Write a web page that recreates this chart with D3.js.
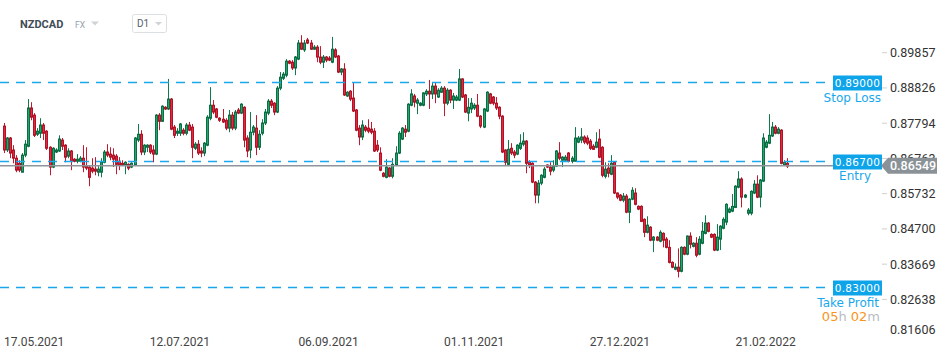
<!DOCTYPE html>
<html><head><meta charset="utf-8">
<script src="https://cdn.jsdelivr.net/npm/d3@7"></script>
<style>html,body{margin:0;padding:0;background:#fff}svg{display:block}</style>
</head><body>
<svg id="c" width="950" height="360"></svg>
<script>
const symbol = "NZDCAD";
const market = "FX";
const interval = "D1";
const openV = [.8771,.8701,.8736,.8701,.8677,.8662,.8636,.8686,.8712,.8824,.8803,.8747,.8750,.8774,.8756,.8709,.8651,.8695,.8698,.8730,.8715,.8683,.8698,.8674,.8668,.8668,.8677,.8654,.8651,.8648,.8645,.8636,.8636,.8665,.8695,.8689,.8686,.8683,.8668,.8662,.8657,.8659,.8651,.8657,.8730,.8747,.8695,.8709,.8715,.8701,.8689,.8803,.8785,.8826,.8821,.8850,.8768,.8750,.8750,.8759,.8750,.8774,.8768,.8706,.8718,
.8698,.8692,.8715,.8794,.8832,.8821,.8794,.8791,.8788,.8765,.8803,.8765,.8818,.8809,.8826,.8736,.8701,.8753,.8765,.8709,.8750,.8780,.8809,.8844,.8838,.8812,.8882,.8911,.8920,.8961,.8958,.8941,.8967,.9014,.8994,.9023,.9014,.8996,.9002,.8973,.8958,.8973,.8970,.8958,.8994,.8976,.8929,.8938,.8859,.8873,.8853,.8818,.8765,.8739,.8768,.8765,.8762,.8756,.8715,.8692,.8633,.8621,.8648,.8624,.8657,.8692,
.8733,.8762,.8756,.8832,.8859,.8838,.8832,.8832,.8865,.8873,.8865,.8888,.8856,.8870,.8882,.8838,.8876,.8847,.8847,.8847,.8909,.8862,.8809,.8821,.8824,.8832,.8800,.8768,.8815,.8865,.8856,.8838,.8826,.8800,.8701,.8659,.8706,.8695,.8689,.8706,.8718,.8727,.8665,.8662,.8607,.8569,.8604,.8621,.8657,.8651,.8642,.8654,.8692,.8671,.8671,.8692,.8668,.8668,.8724,.8730,.8739,.8736,.8727,.8712,.8709,.8733,.8709,
.8624,.8648,.8630,.8665,.8575,.8569,.8554,.8566,.8519,.8557,.8575,.8536,.8536,.8498,.8460,.8475,.8437,.8446,.8434,.8457,.8440,.8416,.8372,.8352,.8358,.8346,.8416,.8396,.8449,.8419,.8428,.8396,.8428,.8457,.8487,.8454,.8454,.8408,.8440,.8472,.8490,.8519,.8522,.8533,.8592,.8616,.8563,.8516,.8516,.8575,.8601,.8563,.8610,.8709,.8721,.8742,.8768,.8750,.8759,.8657,.8662];
const highV = [.8780,.8739,.8739,.8715,.8686,.8671,.8692,.8730,.8850,.8841,.8809,.8765,.8794,.8780,.8759,.8712,.8709,.8706,.8744,.8736,.8718,.8706,.8701,.8677,.8689,.8683,.8715,.8709,.8657,.8677,.8680,.8654,.8677,.8701,.8718,.8709,.8706,.8689,.8680,.8671,.8668,.8662,.8665,.8739,.8777,.8759,.8718,.8718,.8718,.8715,.8806,.8809,.8832,.8829,.8909,.8853,.8774,.8765,.8780,.8765,.8780,.8783,.8777,.8724,.8730,
.8709,.8724,.8803,.8885,.8847,.8824,.8797,.8821,.8794,.8818,.8812,.8818,.8824,.8838,.8829,.8744,.8812,.8774,.8803,.8759,.8791,.8821,.8850,.8850,.8841,.8888,.8929,.8929,.8967,.8964,.8964,.8976,.9023,.9037,.9023,.9029,.9023,.9008,.9008,.9005,.8979,.8976,.8976,.9032,.8999,.8979,.8941,.8955,.8873,.8876,.8897,.8821,.8774,.8788,.8774,.8791,.8783,.8765,.8730,.8709,.8636,.8674,.8651,.8677,.8712,.8756,
.8768,.8774,.8838,.8879,.8865,.8853,.8841,.8870,.8879,.8906,.8897,.8900,.8882,.8888,.8888,.8882,.8879,.8868,.8862,.8938,.8911,.8865,.8853,.8853,.8838,.8865,.8803,.8824,.8873,.8868,.8859,.8856,.8829,.8803,.8703,.8730,.8721,.8701,.8718,.8747,.8753,.8730,.8671,.8665,.8610,.8613,.8630,.8651,.8659,.8665,.8671,.8701,.8724,.8683,.8686,.8695,.8683,.8768,.8742,.8765,.8744,.8744,.8733,.8718,.8753,.8762,.8712,
.8665,.8662,.8686,.8668,.8577,.8572,.8575,.8572,.8560,.8592,.8589,.8539,.8539,.8501,.8507,.8478,.8449,.8449,.8466,.8460,.8446,.8437,.8375,.8369,.8413,.8419,.8419,.8451,.8460,.8431,.8446,.8449,.8490,.8510,.8490,.8457,.8457,.8484,.8481,.8504,.8545,.8533,.8572,.8598,.8639,.8621,.8572,.8531,.8583,.8613,.8627,.8616,.8750,.8730,.8806,.8783,.8774,.8768,.8762,.8671,.8677];
const lowV = [.8692,.8695,.8677,.8662,.8636,.8636,.8636,.8680,.8709,.8788,.8739,.8742,.8736,.8730,.8701,.8627,.8648,.8692,.8695,.8701,.8665,.8677,.8642,.8665,.8662,.8665,.8636,.8642,.8595,.8633,.8627,.8624,.8621,.8662,.8680,.8671,.8651,.8630,.8642,.8654,.8630,.8642,.8648,.8654,.8724,.8686,.8686,.8695,.8689,.8665,.8686,.8759,.8783,.8818,.8818,.8759,.8736,.8742,.8742,.8744,.8744,.8756,.8677,.8701,.8686,
.8680,.8683,.8712,.8788,.8806,.8794,.8783,.8780,.8759,.8753,.8759,.8759,.8806,.8806,.8709,.8680,.8677,.8744,.8686,.8701,.8744,.8774,.8803,.8824,.8803,.8809,.8876,.8906,.8914,.8952,.8935,.8920,.8964,.8994,.8988,.9011,.8994,.8994,.8958,.8952,.8941,.8958,.8961,.8955,.8970,.8926,.8920,.8859,.8856,.8844,.8812,.8756,.8715,.8730,.8753,.8750,.8747,.8695,.8695,.8639,.8621,.8618,.8621,.8618,.8654,.8689,
.8730,.8739,.8753,.8829,.8826,.8806,.8829,.8829,.8859,.8821,.8850,.8838,.8853,.8868,.8800,.8832,.8838,.8821,.8844,.8844,.8853,.8809,.8785,.8809,.8818,.8797,.8765,.8765,.8812,.8835,.8832,.8818,.8791,.8692,.8654,.8657,.8686,.8677,.8686,.8701,.8712,.8633,.8648,.8604,.8545,.8545,.8598,.8618,.8648,.8627,.8636,.8651,.8671,.8651,.8668,.8665,.8662,.8668,.8721,.8721,.8718,.8715,.8701,.8701,.8706,.8677,.8621,
.8618,.8621,.8627,.8572,.8557,.8551,.8548,.8516,.8487,.8554,.8539,.8525,.8490,.8446,.8457,.8434,.8402,.8434,.8431,.8416,.8413,.8369,.8355,.8349,.8328,.8343,.8393,.8393,.8413,.8416,.8387,.8393,.8425,.8454,.8460,.8443,.8405,.8405,.8408,.8469,.8481,.8516,.8519,.8531,.8589,.8533,.8560,.8510,.8510,.8572,.8560,.8533,.8607,.8706,.8718,.8739,.8747,.8747,.8659,.8654,.8648];
const closeV = [.8701,.8736,.8692,.8677,.8642,.8642,.8686,.8718,.8824,.8797,.8744,.8756,.8774,.8750,.8706,.8651,.8706,.8701,.8733,.8712,.8680,.8698,.8668,.8668,.8674,.8677,.8651,.8648,.8621,.8639,.8639,.8645,.8665,.8695,.8686,.8680,.8674,.8659,.8657,.8657,.8665,.8648,.8662,.8736,.8747,.8695,.8715,.8715,.8695,.8689,.8803,.8785,.8829,.8821,.8850,.8762,.8744,.8756,.8777,.8750,.8774,.8759,.8709,.8718,.8692,
.8692,.8721,.8797,.8832,.8812,.8797,.8788,.8783,.8765,.8803,.8765,.8812,.8809,.8835,.8730,.8698,.8753,.8768,.8709,.8747,.8780,.8812,.8844,.8832,.8812,.8882,.8914,.8923,.8961,.8955,.8941,.8973,.9014,.8996,.9014,.9014,.8996,.9002,.8973,.8958,.8973,.8964,.8964,.8996,.8973,.8929,.8938,.8862,.8870,.8850,.8815,.8759,.8739,.8774,.8759,.8756,.8753,.8698,.8701,.8642,.8624,.8651,.8624,.8659,.8692,.8750,
.8765,.8753,.8835,.8865,.8841,.8847,.8838,.8868,.8873,.8865,.8888,.8865,.8876,.8882,.8838,.8876,.8847,.8859,.8856,.8909,.8856,.8812,.8826,.8838,.8832,.8800,.8771,.8821,.8870,.8838,.8838,.8824,.8800,.8695,.8665,.8703,.8692,.8686,.8715,.8721,.8727,.8662,.8657,.8607,.8569,.8604,.8627,.8645,.8651,.8639,.8654,.8698,.8677,.8680,.8680,.8668,.8677,.8736,.8736,.8739,.8724,.8721,.8706,.8703,.8724,.8680,.8627,
.8645,.8633,.8662,.8575,.8563,.8554,.8566,.8519,.8557,.8583,.8542,.8528,.8492,.8460,.8481,.8437,.8446,.8437,.8460,.8437,.8416,.8372,.8358,.8358,.8346,.8416,.8396,.8449,.8425,.8428,.8393,.8440,.8463,.8487,.8463,.8446,.8408,.8446,.8478,.8498,.8542,.8528,.8536,.8595,.8616,.8563,.8569,.8525,.8580,.8601,.8563,.8613,.8736,.8724,.8744,.8768,.8750,.8762,.8662,.8665,.8654];

const dateTickIdx = [0, 48, 97, 145, 193, 241];
const dateTickLabels = ["17.05.2021","12.07.2021","06.09.2021","01.11.2021","27.12.2021","21.02.2022"];
const priceTicks = [0.89857, 0.88826, 0.87794, 0.86763, 0.85732, 0.84700, 0.83669, 0.82638, 0.81606];
const levelNames = ["Stop Loss", "Entry", "Take Profit"];
const levelValues = [0.89000, 0.86700, 0.83000];
const currentPrice = 0.86549;
const countdown = ["05","h ","02","m"];

const svg = d3.select("#c");
svg.append("rect").attr("width",950).attr("height",360).attr("fill","#fff");

const n = closeV.length;
const x = d3.scaleLinear().domain([0, n - 1]).range([4, 787]);
const y = d3.scaleLinear().domain([0.83, 0.89]).range([287, 82]);

const candles = d3.range(n).map(i => ({i, o: openV[i], h: highV[i], l: lowV[i], c: closeV[i]}));

const g = svg.append("g");
const up = {fill:"#23a56c", stroke:"#0d6d44", wick:"#0f7a4b"};
const dn = {fill:"#e6283e", stroke:"#ad1428", wick:"#bf1a30"};
const cg = g.selectAll("g.cd").data(candles).join("g");
cg.append("line")
  .attr("x1", d => Math.round(x(d.i)) + 0.5)
  .attr("x2", d => Math.round(x(d.i)) + 0.5)
  .attr("y1", d => y(d.h)).attr("y2", d => y(d.l))
  .attr("stroke", d => d.c >= d.o ? up.wick : dn.wick).attr("stroke-width", 1);
cg.append("rect")
  .attr("x", d => Math.round(x(d.i)) - 0.5)
  .attr("width", 2)
  .attr("y", d => Math.min(y(d.o), y(d.c)))
  .attr("height", d => Math.max(1, Math.abs(y(d.o) - y(d.c))))
  .attr("fill", d => d.c >= d.o ? up.fill : dn.fill)
  .attr("stroke", d => d.c >= d.o ? up.stroke : dn.stroke)
  .attr("stroke-width", 1);

// level lines
const blue = "#1aa8ec";
levelValues.forEach(v => {
  svg.append("line").attr("x1", 0).attr("x2", 829)
    .attr("y1", Math.round(y(v)) + 0.5).attr("y2", Math.round(y(v)) + 0.5)
    .attr("stroke", blue).attr("stroke-width", 1.5).attr("stroke-dasharray", "9,7");
});
// current price line
svg.append("line").attr("x1", 0).attr("x2", 882)
  .attr("y1", y(currentPrice)).attr("y2", y(currentPrice))
  .attr("stroke", "#8d959a").attr("stroke-width", 1.5);

// right axis
const ax = svg.append("g");
priceTicks.forEach(v => {
  let ty = y(v);
  const clamped = ty > 330;
  if (clamped) ty = 329;
  if (!clamped) ax.append("line").attr("x1", 882).attr("x2", 887).attr("y1", ty).attr("y2", ty)
    .attr("stroke", "#cfcfcf").attr("stroke-width", 1);
  ax.append("text").attr("x", 890).attr("y", ty + 4.5).text(v.toFixed(5))
    .attr("font-family", "Roboto, 'Liberation Sans', sans-serif").attr("font-size", 12.5).attr("fill", "#333");
});

// level labels
const labelFont = "'DejaVu Sans', Verdana, sans-serif";
const nameEnds = [881, 871, 879];
const nameDy = [19, 18, 19];
levelValues.forEach((v, k) => {
  const ly = Math.round(y(v)) + 1;
  svg.append("rect").attr("x", 833).attr("y", ly - 7.5).attr("width", 49).attr("height", 15).attr("fill", "#0ea4ea");
  svg.append("text").attr("x", 857.5).attr("y", ly + 4).attr("text-anchor", "middle")
    .attr("font-family", labelFont).attr("font-size", 10.5).attr("fill", "#fff").attr("letter-spacing", 0.3)
    .text(v.toFixed(5));
  svg.append("text").attr("x", nameEnds[k]).attr("y", ly + nameDy[k]).attr("text-anchor", "end")
    .attr("font-family", labelFont).attr("font-size", 12).attr("fill", "#1aa8ec").text(levelNames[k]);
});
// countdown
const cd = svg.append("text").attr("x", 880).attr("y", 321).attr("text-anchor", "end")
  .attr("font-family", labelFont).attr("font-size", 13);
countdown.forEach((t, k) => cd.append("tspan").attr("fill", k % 2 === 0 ? "#f7941d" : "#b9bcbf").text(t));

// current price tag
const cy = y(currentPrice);
svg.append("path").attr("d", `M881,${cy} L888,${cy - 8} L937,${cy - 8} L937,${cy + 8} L888,${cy + 8} Z`).attr("fill", "#8a9297");
svg.append("text").attr("x", 890).attr("y", cy + 4.5).text(currentPrice.toFixed(5))
  .attr("font-family", "Roboto, sans-serif").attr("font-size", 12.5).attr("font-weight", 500).attr("fill", "#fff");

// x axis labels
dateTickIdx.forEach((i, k) => {
  svg.append("text").attr("x", x(i)).attr("y", 346).text(dateTickLabels[k])
    .attr("font-family", "Roboto, 'Liberation Sans', sans-serif").attr("font-size", 12).attr("fill", "#444");
});

// header
svg.append("text").attr("x", 20).attr("y", 27.5).text(symbol)
  .attr("font-family", "Roboto, sans-serif").attr("font-weight", 700).attr("font-size", 11).attr("fill", "#414c56");
svg.append("text").attr("x", 75).attr("y", 27.5).text(market)
  .attr("font-family", "Roboto, sans-serif").attr("font-size", 8.5).attr("fill", "#93a1ac");
svg.append("path").attr("d", "M91,21.5 L99,21.5 L95,25.5 Z").attr("fill", "#cfd3d6");
svg.append("rect").attr("x", 132.5).attr("y", 14.5).attr("width", 34).attr("height", 18).attr("rx", 2)
  .attr("fill", "#fff").attr("stroke", "#dcdfe2");
svg.append("text").attr("x", 137).attr("y", 27).text(interval)
  .attr("font-family", "Roboto, sans-serif").attr("font-size", 10).attr("fill", "#55606a");
svg.append("path").attr("d", "M155,22 L162,22 L158.5,25.5 Z").attr("fill", "#cfd3d6");
</script>
</body></html>
